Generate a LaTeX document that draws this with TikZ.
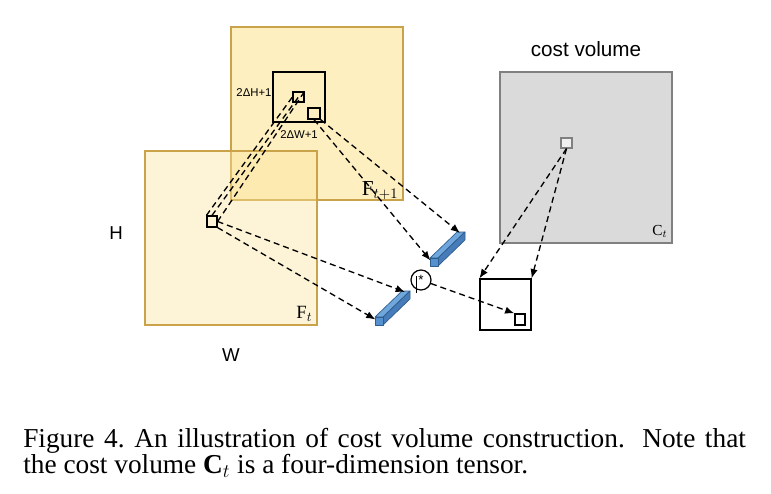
\documentclass[tikz,border=0pt]{standalone}
\usepackage{fontspec}
\setmainfont{Liberation Serif}
\setsansfont{Liberation Sans}
\usepackage{amsmath}
\usetikzlibrary{positioning,arrows.meta}
\definecolor{ftnext}{RGB}{253,239,192}
\definecolor{ftcur}{RGB}{251,227,154}
\definecolor{panelline}{RGB}{201,162,74}
\definecolor{cvfill}{RGB}{218,218,218}
\definecolor{cvline}{RGB}{128,128,128}
\definecolor{barfront}{RGB}{85,145,207}
\definecolor{bartop}{RGB}{111,167,220}
\definecolor{barside}{RGB}{70,124,186}
\definecolor{baredge}{RGB}{46,93,140}

\begin{document}
\begin{tikzpicture}[x=0.75pt,y=-0.75pt,
  panel/.style={draw=panelline, line width=0.8pt, minimum width=129pt, minimum height=129.75pt, inner sep=0pt},
  cell/.style={draw, line width=0.9pt, inner sep=0pt, minimum width=7.5pt, minimum height=7.5pt},
  lbl/.style={font=\sffamily\fontsize{8.5}{10}\selectfont, inner sep=0pt},
  big/.style={font=\sffamily\fontsize{14}{16}\selectfont, inner sep=0pt},
  link/.style={line width=1pt, dash pattern=on 4.5pt off 3pt},
  arr/.style={link, -{Latex[length=7pt,width=5.5pt]}}]
  \useasboundingbox (0,0) rectangle (771,493);
  \node[panel, fill=ftnext] (ftn) at (317,113.5) {};
  \node[panel, fill=ftcur, fill opacity=0.4, minimum height=130.5pt] (ftp) at (231,238) {};
  \node[panel, draw=cvline, fill=cvfill, minimum height=128.25pt] (cv) at (586,157.5) {};
  \node[big, font=\sffamily\fontsize{15.5}{17}\selectfont, above=11pt of cv] (cvname) {cost volume};
  \node[big, left=16pt of ftp, yshift=3.75pt] (hname) {H};
  \node[big, below=17pt of ftp] (wname) {W};
  \node[anchor=base east, inner sep=0pt, font=\fontsize{16}{18}\selectfont] (ftnname) at ([xshift=-3.75pt,yshift=3.75pt]ftn.south east) {$\mathrm{F}_{t+1}$};
  \node[anchor=base east, inner sep=0pt, font=\fontsize{14}{16}\selectfont] (ftpname) at ([xshift=-3.75pt,yshift=5.25pt]ftp.south east) {$\mathrm{F}_{t}$};
  \node[anchor=base east, inner sep=0pt, font=\fontsize{11.5}{13}\selectfont] (cvsym) at ([xshift=-3.75pt,yshift=6pt]cv.south east) {$\mathrm{C}_{t}$};

  \node[draw, line width=0.9pt, minimum width=39pt, minimum height=37.5pt, inner sep=0pt] (win) at (299,97) {};
  \node[cell, minimum width=8.25pt] (pa) at (298.5,97) {};
  \node[cell, minimum width=9pt, minimum height=8.25pt] (pb) at (314,113.5) {};
  \node[cell, minimum height=8.25pt] (fq) at (212,221.5) {};
  \node[cell, draw=cvline, fill=gray!12, minimum width=8.25pt] (cq) at (566.5,143) {};
  \node[draw, fill=white, line width=0.9pt, minimum size=38.25pt, inner sep=0pt] (out) at (505.5,304.5) {};
  \node[cell, minimum height=8.25pt] (oq) at (520,319.5) {};
  \node[circle, draw, line width=0.9pt, minimum size=15pt, inner sep=0pt, font=\sffamily\fontsize{10}{10}\selectfont] (prod) at (421,280) {*};
  \draw[line width=0.6pt] (416,276) -- (416,293);
  \node[lbl, anchor=east, xshift=-0.5pt, yshift=3pt] (dh) at (win.west) {2ΔH+1};
  \node[lbl, below=6pt of win] (dw) {2ΔW+1};

  \foreach \bx/\by/\n in {430/258/b1, 375/317/b2}{
    \begin{scope}[shift={(\bx,\by)}, draw=baredge, line width=0.5pt, line join=round]
      \filldraw[fill=bartop] (0,0) -- (8,0) -- (35,-26) -- (27,-26) -- cycle;
      \filldraw[fill=barside] (8,0) -- (8,8) -- (35,-18) -- (35,-26) -- cycle;
      \filldraw[fill=barfront] (0,0) rectangle (8,8);
      \coordinate (\n-lo) at (0.5,2.5);
      \coordinate (\n-hi) at (30,-25);
    \end{scope}
  }

  \draw[link] (fq.north west) -- (pa.west);
  \draw[link] (fq.north) -- (pa.center);
  \draw[link] (fq.east) -- (pa.north east);
  \draw[arr] (fq.east) -- (b2-hi);
  \draw[arr] (fq.south east) -- (b2-lo);
  \draw[arr] (pb.south) -- (b1-lo);
  \draw[arr] (pb.south east) -- (b1-hi);
  \draw[arr] (cq.south) -- (out.north west);
  \draw[arr] (cq.south) -- (out.north east);
  \draw[arr] (prod) -- (oq.north west);

  \node[anchor=base west, text width=542pt, align=justify, inner sep=0pt, font=\fontsize{20.5}{19.5}\selectfont] (caption) at (23,447) {Figure 4.\ An illustration of cost volume construction.  Note that\linebreak the cost volume $\mathbf{C}_t$ is a four-dimension tensor.};
\end{tikzpicture}
\end{document}
